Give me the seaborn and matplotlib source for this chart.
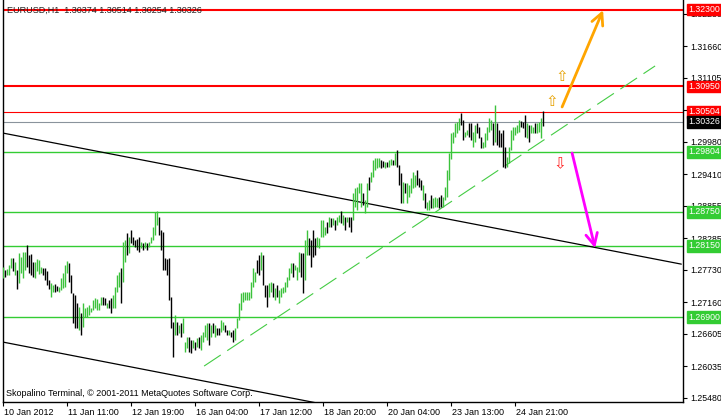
import matplotlib
matplotlib.use("Agg")
import matplotlib.pyplot as plt
import matplotlib.transforms as mtransforms
import numpy as np
import pandas as pd
import seaborn as sns

# --- EURUSD H1 bars (high / low, 1 = up bar) ---
bar_high = [
    1.2778, 1.2773, 1.2775, 1.2781, 1.2794, 1.2794, 1.2787, 1.2773, 1.2802, 1.2796,
    1.2804, 1.2804, 1.2817, 1.2799, 1.2801, 1.2787, 1.2787, 1.2792, 1.2790, 1.2778,
    1.2776, 1.2776, 1.2771, 1.2755, 1.2750, 1.2746, 1.2748, 1.2745, 1.2743, 1.2759,
    1.2767, 1.2781, 1.2788, 1.2785, 1.2764, 1.2732, 1.2729, 1.2715, 1.2708, 1.2697,
    1.2715, 1.2706, 1.2708, 1.2711, 1.2706, 1.2720, 1.2724, 1.2722, 1.2715, 1.2725,
    1.2725, 1.2724, 1.2715, 1.2720, 1.2724, 1.2729, 1.2743, 1.2764, 1.2769, 1.2776,
    1.2822, 1.2825, 1.2838, 1.2831, 1.2843, 1.2831, 1.2825, 1.2828, 1.2831, 1.2822,
    1.2820, 1.2822, 1.2820, 1.2822, 1.2831, 1.2848, 1.2874, 1.2876, 1.2866, 1.2843,
    1.2839, 1.2794, 1.2792, 1.2794, 1.2725, 1.2681, 1.2694, 1.2681, 1.2676, 1.2680,
    1.2689, 1.2646, 1.2655, 1.2655, 1.2650, 1.2650, 1.2646, 1.2653, 1.2655, 1.2658,
    1.2664, 1.2676, 1.2680, 1.2680, 1.2676, 1.2680, 1.2676, 1.2671, 1.2671, 1.2685,
    1.2681, 1.2676, 1.2667, 1.2667, 1.2664, 1.2667, 1.2671, 1.2688, 1.2715, 1.2732,
    1.2734, 1.2734, 1.2734, 1.2734, 1.2752, 1.2776, 1.2769, 1.2790, 1.2799, 1.2804,
    1.2799, 1.2746, 1.2746, 1.2750, 1.2752, 1.2750, 1.2741, 1.2746, 1.2738, 1.2741,
    1.2743, 1.2752, 1.2760, 1.2776, 1.2785, 1.2785, 1.2781, 1.2778, 1.2804, 1.2802,
    1.2802, 1.2825, 1.2843, 1.2829, 1.2825, 1.2843, 1.2829, 1.2831, 1.2829, 1.2860,
    1.2860, 1.2848, 1.2857, 1.2866, 1.2864, 1.2864, 1.2860, 1.2866, 1.2869, 1.2876,
    1.2869, 1.2866, 1.2866, 1.2866, 1.2866, 1.2908, 1.2917, 1.2918, 1.2926, 1.2926,
    1.2908, 1.2896, 1.2926, 1.2936, 1.2945, 1.2966, 1.2969, 1.2969, 1.2969, 1.2966,
    1.2964, 1.2962, 1.2962, 1.2966, 1.2967, 1.2966, 1.2978, 1.2983, 1.2957, 1.2943,
    1.2927, 1.2926, 1.2926, 1.2922, 1.2934, 1.2945, 1.2940, 1.2948, 1.2934, 1.2931,
    1.2922, 1.2908, 1.2892, 1.2896, 1.2904, 1.2899, 1.2901, 1.2899, 1.2901, 1.2904,
    1.2901, 1.2918, 1.2948, 1.2978, 1.3013, 1.3015, 1.3031, 1.3033, 1.3040, 1.3048,
    1.3036, 1.3015, 1.3018, 1.3031, 1.3031, 1.3015, 1.3027, 1.3031, 1.3024, 1.3006,
    1.2997, 1.3013, 1.3024, 1.3040, 1.3036, 1.3031, 1.3062, 1.3031, 1.3018, 1.3013,
    1.3018, 1.2989, 1.2971, 1.2989, 1.3018, 1.3024, 1.3024, 1.3027, 1.3036, 1.3034,
    1.3033, 1.3045, 1.3031, 1.3027, 1.3027, 1.3024, 1.3031, 1.3031, 1.3033, 1.3040,
    1.30514,
]
bar_low = [
    1.2759, 1.2760, 1.2764, 1.2764, 1.2776, 1.2771, 1.2764, 1.2739, 1.2750, 1.2767,
    1.2759, 1.2773, 1.2778, 1.2767, 1.2764, 1.2760, 1.2759, 1.2771, 1.2766, 1.2767,
    1.2764, 1.2755, 1.2747, 1.2739, 1.2725, 1.2734, 1.2734, 1.2736, 1.2734, 1.2738,
    1.2741, 1.2743, 1.2767, 1.2752, 1.2732, 1.2680, 1.2671, 1.2671, 1.2667, 1.2658,
    1.2673, 1.2690, 1.2690, 1.2694, 1.2699, 1.2702, 1.2706, 1.2702, 1.2702, 1.2711,
    1.2711, 1.2711, 1.2706, 1.2706, 1.2697, 1.2706, 1.2706, 1.2734, 1.2743, 1.2715,
    1.2752, 1.2787, 1.2799, 1.2802, 1.2820, 1.2817, 1.2813, 1.2808, 1.2804, 1.2811,
    1.2808, 1.2811, 1.2808, 1.2813, 1.2820, 1.2825, 1.2834, 1.2852, 1.2834, 1.2808,
    1.2773, 1.2773, 1.2764, 1.2720, 1.2671, 1.2620, 1.2658, 1.2658, 1.2662, 1.2655,
    1.2662, 1.2629, 1.2636, 1.2629, 1.2627, 1.2636, 1.2632, 1.2638, 1.2636, 1.2632,
    1.2646, 1.2655, 1.2650, 1.2641, 1.2655, 1.2662, 1.2655, 1.2658, 1.2658, 1.2664,
    1.2667, 1.2664, 1.2658, 1.2658, 1.2655, 1.2646, 1.2650, 1.2671, 1.2685, 1.2702,
    1.2716, 1.2720, 1.2720, 1.2720, 1.2724, 1.2743, 1.2752, 1.2767, 1.2764, 1.2773,
    1.2746, 1.2725, 1.2708, 1.2725, 1.2734, 1.2725, 1.2720, 1.2725, 1.2715, 1.2725,
    1.2732, 1.2734, 1.2743, 1.2755, 1.2767, 1.2760, 1.2773, 1.2755, 1.2769, 1.2760,
    1.2732, 1.2755, 1.2799, 1.2799, 1.2778, 1.2796, 1.2799, 1.2813, 1.2811, 1.2831,
    1.2831, 1.2834, 1.2838, 1.2848, 1.2848, 1.2852, 1.2843, 1.2852, 1.2857, 1.2855,
    1.2852, 1.2843, 1.2857, 1.2848, 1.2839, 1.2860, 1.2883, 1.2878, 1.2908, 1.2883,
    1.2887, 1.2873, 1.2883, 1.2913, 1.2927, 1.2936, 1.2948, 1.2952, 1.2954, 1.2952,
    1.2954, 1.2952, 1.2954, 1.2954, 1.2957, 1.2957, 1.2957, 1.2954, 1.2922, 1.2890,
    1.2891, 1.2908, 1.2890, 1.2901, 1.2908, 1.2917, 1.2918, 1.2922, 1.2918, 1.2913,
    1.2896, 1.2881, 1.2878, 1.2878, 1.2881, 1.2881, 1.2883, 1.2883, 1.2881, 1.2883,
    1.2883, 1.2896, 1.2901, 1.2931, 1.2968, 1.2996, 1.3006, 1.3013, 1.3018, 1.3027,
    1.3001, 1.3006, 1.3010, 1.3006, 1.3001, 1.2989, 1.2997, 1.3013, 1.3004, 1.2987,
    1.2987, 1.2989, 1.3001, 1.3015, 1.3018, 1.2992, 1.2997, 1.2992, 1.2989, 1.2989,
    1.2954, 1.2952, 1.2954, 1.2960, 1.2983, 1.3001, 1.3010, 1.3013, 1.3015, 1.3024,
    1.3022, 1.3006, 1.3004, 1.2997, 1.3013, 1.3013, 1.3013, 1.3013, 1.3015, 1.3004,
    1.30254,
]
bar_up = [
    1, 0, 1, 1, 1, 0, 1, 0, 1, 1,
    1, 1, 0, 0, 0, 0, 1, 1, 1, 1,
    0, 0, 0, 0, 1, 1, 0, 0, 1, 1,
    1, 1, 1, 0, 0, 0, 0, 0, 1, 0,
    1, 1, 1, 1, 1, 1, 1, 1, 1, 1,
    0, 0, 1, 0, 0, 1, 1, 1, 1, 0,
    1, 1, 0, 1, 0, 0, 0, 0, 0, 1,
    0, 1, 0, 1, 1, 1, 1, 1, 0, 0,
    0, 0, 0, 0, 0, 0, 1, 0, 1, 0,
    1, 1, 1, 0, 0, 1, 0, 1, 0, 1,
    1, 1, 1, 0, 1, 0, 1, 0, 0, 1,
    1, 0, 0, 1, 0, 0, 1, 1, 1, 1,
    1, 1, 1, 1, 1, 1, 1, 0, 0, 1,
    0, 0, 0, 1, 1, 0, 1, 0, 1, 1,
    1, 1, 1, 1, 1, 0, 1, 1, 1, 0,
    0, 1, 1, 0, 0, 0, 0, 1, 1, 1,
    1, 1, 0, 1, 0, 1, 0, 1, 1, 0,
    1, 0, 1, 0, 0, 1, 1, 1, 1, 1,
    0, 1, 1, 0, 1, 1, 1, 1, 1, 0,
    0, 1, 0, 1, 1, 0, 1, 0, 0, 0,
    1, 0, 1, 1, 1, 1, 1, 0, 0, 0,
    1, 0, 1, 1, 0, 1, 1, 1, 0, 0,
    1, 1, 1, 1, 1, 1, 1, 1, 1, 0,
    0, 1, 1, 0, 0, 1, 1, 0, 0, 0,
    1, 1, 1, 1, 1, 0, 1, 0, 0, 0,
    0, 0, 1, 1, 1, 1, 1, 1, 1, 0,
    0, 0, 1, 0, 1, 1, 0, 1, 1, 1,
    0,
]

# --- Axis labels ---
time_label_bars = [0, 32, 64, 96, 128, 160, 192, 224, 256]
time_labels = ["10 Jan 2012", "11 Jan 11:00", "12 Jan 19:00", "16 Jan 04:00", "17 Jan 12:00",
               "18 Jan 20:00", "20 Jan 04:00", "23 Jan 13:00", "24 Jan 21:00"]
price_ticks = [1.25480, 1.26035, 1.26605, 1.27160, 1.27730, 1.28285, 1.28855,
               1.29410, 1.29980, 1.30535, 1.31105, 1.31660, 1.32230]

# --- Horizontal levels ---
resistance_levels = [1.32300, 1.30950, 1.30504]
resistance_widths = [1.5, 1.5, 0.8]
support_levels = [1.29804, 1.28750, 1.28150, 1.26900]
bid_price = 1.30326
quote = [1.30374, 1.30514, 1.30254, 1.30326]  # open, high, low, close of last bar

# --- Trend lines: (bar, price) anchors ---
channel_top_bars, channel_top_prices = [0, 339], [1.3013, 1.2783]
channel_low_bars, channel_low_prices = [0, 160], [1.2646, 1.2537]
support_bars, support_prices = [100.4, 325.9], [1.2604, 1.3131]
target_up_bars, target_up_prices = [279.4, 299.9], [1.3059, 1.3229]
target_dn_bars, target_dn_prices = [284.4, 295.9], [1.2978, 1.2811]

# --- Signal arrows ---
signal_bars = [279, 274, 278]
signal_prices = [1.3113, 1.3068, 1.2959]
signal_dirs = ["up", "up", "down"]

UP_GREEN = "#3cc23c"
LEVEL_GREEN = "#33cc33"

sns.set_theme(style="white")
plt.rcParams["font.family"] = ["Liberation Sans", "DejaVu Sans"]

W, H = 721, 418
fig = plt.figure(figsize=(W / 100, H / 100), dpi=100)
ax = fig.add_axes([2.5 / W, 16 / H, 680.5 / W, 402 / H])
ax.set_xlim(-0.4, 339.85)
ax.set_ylim(1.25409, 1.32468)

# --- Bars ---
bars = pd.DataFrame({"bar": np.arange(len(bar_high)), "high": bar_high,
                     "low": bar_low, "up": bar_up})
bars["color"] = np.where(bars["up"] == 1, UP_GREEN, "black")
ax.vlines(bars["bar"], bars["low"], bars["high"], colors=bars["color"], lw=1.0, zorder=4)

# --- Levels ---
for price, lw in zip(resistance_levels, resistance_widths):
    ax.axhline(price, color="red", lw=lw, zorder=2)
for price in support_levels:
    ax.axhline(price, color=LEVEL_GREEN, lw=1.0, zorder=2)
ax.axhline(bid_price, color="#8a939c", lw=0.8, zorder=2)

# --- Trend lines ---
sns.lineplot(x=channel_top_bars, y=channel_top_prices, ax=ax, color="black", lw=0.9, zorder=3)
sns.lineplot(x=channel_low_bars, y=channel_low_prices, ax=ax, color="black", lw=0.9, zorder=3)
ax.plot(support_bars, support_prices, color="#44cc44", lw=0.8, ls=(0, (18, 7)), zorder=3)

for bx, py, col in [(target_up_bars, target_up_prices, "#ffa500"),
                    (target_dn_bars, target_dn_prices, "#ff00ff")]:
    ax.annotate("", xy=(bx[1], py[1]), xytext=(bx[0], py[0]),
                arrowprops=dict(arrowstyle="->,head_length=0.7,head_width=0.35",
                                color=col, lw=2.0, shrinkA=0, shrinkB=0), zorder=5)

for b, p, d in zip(signal_bars, signal_prices, signal_dirs):
    ax.text(b, p, "\u21e7" if d == "up" else "\u21e9", ha="center", va="center",
            fontsize=11, color="#e6a100" if d == "up" else "#ff2020",
            family="DejaVu Sans", zorder=6)

# --- Axes styling ---
for side in ["left", "right", "bottom"]:
    ax.spines[side].set_color("black")
    ax.spines[side].set_linewidth(1.0)
ax.spines["top"].set_visible(False)

ax.yaxis.tick_right()
ax.set_yticks(price_ticks)
ax.set_yticklabels([f"{v:.5f}" for v in price_ticks])
ax.tick_params(axis="y", direction="out", length=3, width=0.8, pad=2,
               labelsize=6.3, colors="black", right=True, left=False)
ax.set_xticks(time_label_bars)
ax.set_xticklabels(time_labels, ha="left")
ax.tick_params(axis="x", direction="out", length=3, width=0.8, pad=1.5,
               labelsize=6.5, colors="black", bottom=True)
for lab in ax.get_xticklabels():
    lab.set_transform(lab.get_transform() + mtransforms.ScaledTranslation(1 / 100, 0, fig.dpi_scale_trans))
ax.set_xlabel("")
ax.set_ylabel("")

# --- Price boxes on the right scale ---
trans = mtransforms.blended_transform_factory(ax.transAxes, ax.transData)
boxes = [(p, "red") for p in resistance_levels] + [(bid_price, "black")] + \
        [(p, LEVEL_GREEN) for p in support_levels]
for price, col in boxes:
    ax.text(1 + 5 / 680.5, price, f"{price:.5f}", transform=trans, ha="left", va="center",
            fontsize=6.3, color="white", clip_on=False, zorder=10,
            bbox=dict(boxstyle="square,pad=0.15", fc=col, ec=col))

# --- Texts ---
fig.text(7 / W, 1 - 10 / H, "EURUSD,H1  " + " ".join(f"{v:.5f}" for v in quote),
         fontsize=6.5, color="#202020", va="center", ha="left")
fig.text(6 / W, 1 - 394 / H, "Skopalino Terminal, \u00a9 2001-2011 MetaQuotes Software Corp.",
         fontsize=6.5, color="black", va="center", ha="left")

fig.savefig("out.png", dpi=100)
